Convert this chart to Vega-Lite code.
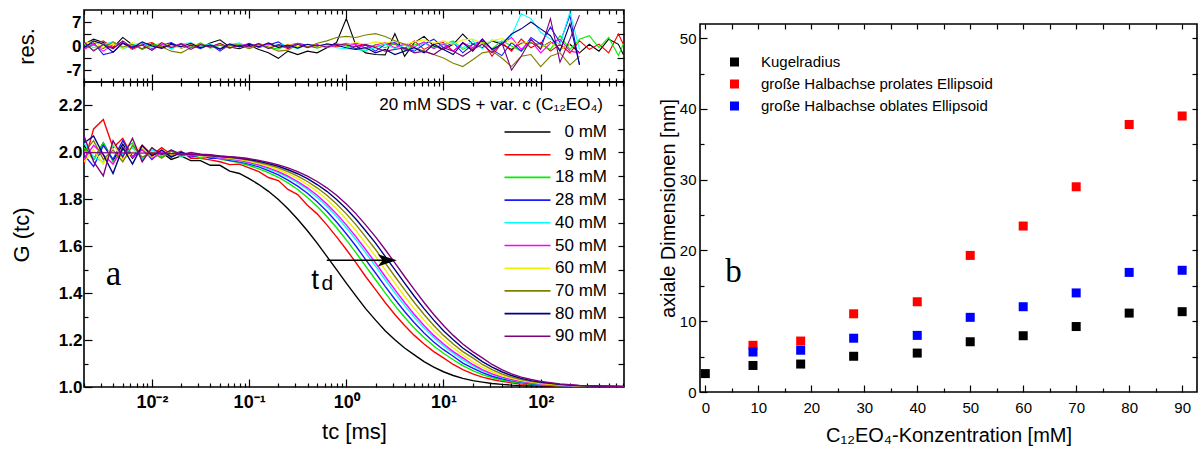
{
"$schema": "https://vega.github.io/schema/vega-lite/v6.json",
"background": "white",
"padding": {"left": 9, "top": 8, "right": 2, "bottom": 0},
"spacing": 31,
"config": {
  "view": {"stroke": "#000000", "strokeWidth": 1.6},
  "axis": {"grid": false, "domain": false, "minExtent": 0, "tickColor": "#000000", "tickWidth": 1.2, "labelColor": "#000000", "titleColor": "#000000", "labelFont": "Liberation Sans", "titleFont": "Liberation Sans", "titleFontWeight": "normal"},
  "legend": {"labelFont": "Liberation Sans", "labelColor": "#000000"},
  "text": {"font": "Liberation Sans", "color": "#000000"}
},
"resolve": {"scale": {"color": "independent"}},
"datasets": {
"g": [
{"c":0,"t":0.002,"g":2.03},{"c":0,"t":0.00251,"g":1.97},{"c":0,"t":0.00316,"g":2.04},{"c":0,"t":0.00398,"g":1.965},{"c":0,"t":0.00501,"g":2.035},{"c":0,"t":0.00631,"g":1.975},{"c":0,"t":0.00794,"g":2.02},{"c":0,"t":0.01,"g":1.975},{"c":0,"t":0.0126,"g":2.0},{"c":0,"t":0.0158,"g":1.97},{"c":0,"t":0.02,"g":1.985},{"c":0,"t":0.0251,"g":1.965},{"c":0,"t":0.0316,"g":1.965},{"c":0,"t":0.0398,"g":1.945},{"c":0,"t":0.0501,"g":1.945},{"c":0,"t":0.0631,"g":1.92},{"c":0,"t":0.0794,"g":1.91},{"c":0,"t":0.1,"g":1.888},{"c":0,"t":0.126,"g":1.863},{"c":0,"t":0.158,"g":1.834},{"c":0,"t":0.2,"g":1.799},{"c":0,"t":0.251,"g":1.76},{"c":0,"t":0.316,"g":1.715},{"c":0,"t":0.398,"g":1.666},{"c":0,"t":0.501,"g":1.613},{"c":0,"t":0.631,"g":1.557},{"c":0,"t":0.794,"g":1.5},{"c":0,"t":1,"g":1.443},{"c":0,"t":1.26,"g":1.387},{"c":0,"t":1.58,"g":1.334},{"c":0,"t":2,"g":1.285},{"c":0,"t":2.51,"g":1.24},{"c":0,"t":3.16,"g":1.201},{"c":0,"t":3.98,"g":1.166},{"c":0,"t":5.01,"g":1.137},{"c":0,"t":6.31,"g":1.108},{"c":0,"t":7.94,"g":1.085},{"c":0,"t":10,"g":1.065},{"c":0,"t":12.6,"g":1.049},{"c":0,"t":15.8,"g":1.037},{"c":0,"t":20,"g":1.027},{"c":0,"t":25.1,"g":1.021},{"c":0,"t":31.6,"g":1.015},{"c":0,"t":39.8,"g":1.011},{"c":0,"t":50.1,"g":1.008},{"c":0,"t":63.1,"g":1.006},{"c":0,"t":79.4,"g":1.005},{"c":0,"t":100,"g":1.004},{"c":0,"t":158,"g":1.002},{"c":0,"t":251,"g":1.001},{"c":0,"t":398,"g":1.001},{"c":0,"t":708,"g":1.0},
{"c":9,"t":0.002,"g":1.95},{"c":9,"t":0.00251,"g":2.1},{"c":9,"t":0.00316,"g":2.14},{"c":9,"t":0.00398,"g":2.02},{"c":9,"t":0.00501,"g":2.06},{"c":9,"t":0.00631,"g":1.98},{"c":9,"t":0.00794,"g":2.03},{"c":9,"t":0.01,"g":1.99},{"c":9,"t":0.0126,"g":2.02},{"c":9,"t":0.0158,"g":1.99},{"c":9,"t":0.02,"g":2.005},{"c":9,"t":0.0251,"g":1.975},{"c":9,"t":0.0316,"g":1.975},{"c":9,"t":0.0398,"g":1.968},{"c":9,"t":0.0501,"g":1.96},{"c":9,"t":0.0631,"g":1.948},{"c":9,"t":0.0794,"g":1.95},{"c":9,"t":0.1,"g":1.934},{"c":9,"t":0.126,"g":1.918},{"c":9,"t":0.158,"g":1.893},{"c":9,"t":0.2,"g":1.88},{"c":9,"t":0.251,"g":1.842},{"c":9,"t":0.316,"g":1.82},{"c":9,"t":0.398,"g":1.775},{"c":9,"t":0.501,"g":1.738},{"c":9,"t":0.631,"g":1.691},{"c":9,"t":0.794,"g":1.64},{"c":9,"t":1,"g":1.586},{"c":9,"t":1.26,"g":1.529},{"c":9,"t":1.58,"g":1.471},{"c":9,"t":2,"g":1.415},{"c":9,"t":2.51,"g":1.36},{"c":9,"t":3.16,"g":1.309},{"c":9,"t":3.98,"g":1.262},{"c":9,"t":5.01,"g":1.22},{"c":9,"t":6.31,"g":1.183},{"c":9,"t":7.94,"g":1.151},{"c":9,"t":10,"g":1.124},{"c":9,"t":12.6,"g":1.096},{"c":9,"t":15.8,"g":1.074},{"c":9,"t":20,"g":1.056},{"c":9,"t":25.1,"g":1.042},{"c":9,"t":31.6,"g":1.032},{"c":9,"t":39.8,"g":1.024},{"c":9,"t":50.1,"g":1.018},{"c":9,"t":63.1,"g":1.013},{"c":9,"t":79.4,"g":1.01},{"c":9,"t":100,"g":1.007},{"c":9,"t":158,"g":1.004},{"c":9,"t":251,"g":1.002},{"c":9,"t":398,"g":1.001},{"c":9,"t":708,"g":1.0},
{"c":18,"t":0.002,"g":2.02},{"c":18,"t":0.00251,"g":1.97},{"c":18,"t":0.00316,"g":2.04},{"c":18,"t":0.00398,"g":1.96},{"c":18,"t":0.00501,"g":2.01},{"c":18,"t":0.00631,"g":2.04},{"c":18,"t":0.00794,"g":1.97},{"c":18,"t":0.01,"g":2.02},{"c":18,"t":0.0126,"g":1.98},{"c":18,"t":0.0158,"g":2.01},{"c":18,"t":0.02,"g":1.99},{"c":18,"t":0.0251,"g":1.995},{"c":18,"t":0.0316,"g":1.975},{"c":18,"t":0.0398,"g":1.985},{"c":18,"t":0.0501,"g":1.97},{"c":18,"t":0.0631,"g":1.965},{"c":18,"t":0.0794,"g":1.955},{"c":18,"t":0.1,"g":1.944},{"c":18,"t":0.126,"g":1.93},{"c":18,"t":0.158,"g":1.914},{"c":18,"t":0.2,"g":1.894},{"c":18,"t":0.251,"g":1.87},{"c":18,"t":0.316,"g":1.842},{"c":18,"t":0.398,"g":1.808},{"c":18,"t":0.501,"g":1.77},{"c":18,"t":0.631,"g":1.727},{"c":18,"t":0.794,"g":1.679},{"c":18,"t":1,"g":1.627},{"c":18,"t":1.26,"g":1.572},{"c":18,"t":1.58,"g":1.515},{"c":18,"t":2,"g":1.457},{"c":18,"t":2.51,"g":1.401},{"c":18,"t":3.16,"g":1.347},{"c":18,"t":3.98,"g":1.297},{"c":18,"t":5.01,"g":1.251},{"c":18,"t":6.31,"g":1.211},{"c":18,"t":7.94,"g":1.175},{"c":18,"t":10,"g":1.144},{"c":18,"t":12.6,"g":1.116},{"c":18,"t":15.8,"g":1.091},{"c":18,"t":20,"g":1.07},{"c":18,"t":25.1,"g":1.053},{"c":18,"t":31.6,"g":1.04},{"c":18,"t":39.8,"g":1.03},{"c":18,"t":50.1,"g":1.022},{"c":18,"t":63.1,"g":1.017},{"c":18,"t":79.4,"g":1.012},{"c":18,"t":100,"g":1.009},{"c":18,"t":158,"g":1.005},{"c":18,"t":251,"g":1.003},{"c":18,"t":398,"g":1.002},{"c":18,"t":708,"g":1.001},
{"c":28,"t":0.002,"g":1.99},{"c":28,"t":0.00251,"g":1.94},{"c":28,"t":0.00316,"g":2.03},{"c":28,"t":0.00398,"g":1.97},{"c":28,"t":0.00501,"g":2.05},{"c":28,"t":0.00631,"g":1.98},{"c":28,"t":0.00794,"g":2.02},{"c":28,"t":0.01,"g":1.97},{"c":28,"t":0.0126,"g":2.01},{"c":28,"t":0.0158,"g":1.985},{"c":28,"t":0.02,"g":2.0},{"c":28,"t":0.0251,"g":1.98},{"c":28,"t":0.0316,"g":1.99},{"c":28,"t":0.0398,"g":1.975},{"c":28,"t":0.0501,"g":1.975},{"c":28,"t":0.0631,"g":1.965},{"c":28,"t":0.0794,"g":1.96},{"c":28,"t":0.1,"g":1.95},{"c":28,"t":0.126,"g":1.938},{"c":28,"t":0.158,"g":1.922},{"c":28,"t":0.2,"g":1.904},{"c":28,"t":0.251,"g":1.882},{"c":28,"t":0.316,"g":1.856},{"c":28,"t":0.398,"g":1.826},{"c":28,"t":0.501,"g":1.79},{"c":28,"t":0.631,"g":1.749},{"c":28,"t":0.794,"g":1.703},{"c":28,"t":1,"g":1.653},{"c":28,"t":1.26,"g":1.6},{"c":28,"t":1.58,"g":1.543},{"c":28,"t":2,"g":1.486},{"c":28,"t":2.51,"g":1.429},{"c":28,"t":3.16,"g":1.374},{"c":28,"t":3.98,"g":1.322},{"c":28,"t":5.01,"g":1.274},{"c":28,"t":6.31,"g":1.23},{"c":28,"t":7.94,"g":1.192},{"c":28,"t":10,"g":1.159},{"c":28,"t":12.6,"g":1.131},{"c":28,"t":15.8,"g":1.102},{"c":28,"t":20,"g":1.08},{"c":28,"t":25.1,"g":1.061},{"c":28,"t":31.6,"g":1.046},{"c":28,"t":39.8,"g":1.035},{"c":28,"t":50.1,"g":1.026},{"c":28,"t":63.1,"g":1.02},{"c":28,"t":79.4,"g":1.014},{"c":28,"t":100,"g":1.011},{"c":28,"t":158,"g":1.006},{"c":28,"t":251,"g":1.003},{"c":28,"t":398,"g":1.002},{"c":28,"t":708,"g":1.001},
{"c":40,"t":0.002,"g":2.04},{"c":40,"t":0.00251,"g":1.98},{"c":40,"t":0.00316,"g":1.96},{"c":40,"t":0.00398,"g":2.03},{"c":40,"t":0.00501,"g":1.99},{"c":40,"t":0.00631,"g":2.02},{"c":40,"t":0.00794,"g":1.975},{"c":40,"t":0.01,"g":2.01},{"c":40,"t":0.0126,"g":1.99},{"c":40,"t":0.0158,"g":2.005},{"c":40,"t":0.02,"g":1.98},{"c":40,"t":0.0251,"g":1.995},{"c":40,"t":0.0316,"g":1.985},{"c":40,"t":0.0398,"g":1.985},{"c":40,"t":0.0501,"g":1.975},{"c":40,"t":0.0631,"g":1.97},{"c":40,"t":0.0794,"g":1.963},{"c":40,"t":0.1,"g":1.955},{"c":40,"t":0.126,"g":1.944},{"c":40,"t":0.158,"g":1.93},{"c":40,"t":0.2,"g":1.914},{"c":40,"t":0.251,"g":1.894},{"c":40,"t":0.316,"g":1.87},{"c":40,"t":0.398,"g":1.842},{"c":40,"t":0.501,"g":1.808},{"c":40,"t":0.631,"g":1.77},{"c":40,"t":0.794,"g":1.727},{"c":40,"t":1,"g":1.679},{"c":40,"t":1.26,"g":1.627},{"c":40,"t":1.58,"g":1.572},{"c":40,"t":2,"g":1.515},{"c":40,"t":2.51,"g":1.457},{"c":40,"t":3.16,"g":1.401},{"c":40,"t":3.98,"g":1.347},{"c":40,"t":5.01,"g":1.297},{"c":40,"t":6.31,"g":1.251},{"c":40,"t":7.94,"g":1.211},{"c":40,"t":10,"g":1.175},{"c":40,"t":12.6,"g":1.144},{"c":40,"t":15.8,"g":1.116},{"c":40,"t":20,"g":1.091},{"c":40,"t":25.1,"g":1.07},{"c":40,"t":31.6,"g":1.053},{"c":40,"t":39.8,"g":1.04},{"c":40,"t":50.1,"g":1.03},{"c":40,"t":63.1,"g":1.022},{"c":40,"t":79.4,"g":1.017},{"c":40,"t":100,"g":1.012},{"c":40,"t":158,"g":1.007},{"c":40,"t":251,"g":1.004},{"c":40,"t":398,"g":1.002},{"c":40,"t":708,"g":1.001},
{"c":50,"t":0.002,"g":1.97},{"c":50,"t":0.00251,"g":2.03},{"c":50,"t":0.00316,"g":1.99},{"c":50,"t":0.00398,"g":1.95},{"c":50,"t":0.00501,"g":2.02},{"c":50,"t":0.00631,"g":1.98},{"c":50,"t":0.00794,"g":2.01},{"c":50,"t":0.01,"g":1.975},{"c":50,"t":0.0126,"g":2.0},{"c":50,"t":0.0158,"g":1.985},{"c":50,"t":0.02,"g":2.0},{"c":50,"t":0.0251,"g":1.985},{"c":50,"t":0.0316,"g":1.99},{"c":50,"t":0.0398,"g":1.98},{"c":50,"t":0.0501,"g":1.977},{"c":50,"t":0.0631,"g":1.972},{"c":50,"t":0.0794,"g":1.966},{"c":50,"t":0.1,"g":1.957},{"c":50,"t":0.126,"g":1.947},{"c":50,"t":0.158,"g":1.934},{"c":50,"t":0.2,"g":1.918},{"c":50,"t":0.251,"g":1.899},{"c":50,"t":0.316,"g":1.876},{"c":50,"t":0.398,"g":1.849},{"c":50,"t":0.501,"g":1.817},{"c":50,"t":0.631,"g":1.78},{"c":50,"t":0.794,"g":1.738},{"c":50,"t":1,"g":1.691},{"c":50,"t":1.26,"g":1.64},{"c":50,"t":1.58,"g":1.586},{"c":50,"t":2,"g":1.529},{"c":50,"t":2.51,"g":1.471},{"c":50,"t":3.16,"g":1.415},{"c":50,"t":3.98,"g":1.36},{"c":50,"t":5.01,"g":1.309},{"c":50,"t":6.31,"g":1.262},{"c":50,"t":7.94,"g":1.22},{"c":50,"t":10,"g":1.183},{"c":50,"t":12.6,"g":1.151},{"c":50,"t":15.8,"g":1.124},{"c":50,"t":20,"g":1.096},{"c":50,"t":25.1,"g":1.074},{"c":50,"t":31.6,"g":1.056},{"c":50,"t":39.8,"g":1.042},{"c":50,"t":50.1,"g":1.032},{"c":50,"t":63.1,"g":1.024},{"c":50,"t":79.4,"g":1.018},{"c":50,"t":100,"g":1.013},{"c":50,"t":158,"g":1.007},{"c":50,"t":251,"g":1.004},{"c":50,"t":398,"g":1.002},{"c":50,"t":708,"g":1.001},
{"c":60,"t":0.002,"g":1.96},{"c":60,"t":0.00251,"g":2.01},{"c":60,"t":0.00316,"g":1.95},{"c":60,"t":0.00398,"g":2.04},{"c":60,"t":0.00501,"g":1.97},{"c":60,"t":0.00631,"g":2.0},{"c":60,"t":0.00794,"g":2.02},{"c":60,"t":0.01,"g":1.98},{"c":60,"t":0.0126,"g":2.01},{"c":60,"t":0.0158,"g":1.99},{"c":60,"t":0.02,"g":1.995},{"c":60,"t":0.0251,"g":1.99},{"c":60,"t":0.0316,"g":1.985},{"c":60,"t":0.0398,"g":1.985},{"c":60,"t":0.0501,"g":1.98},{"c":60,"t":0.0631,"g":1.975},{"c":60,"t":0.0794,"g":1.969},{"c":60,"t":0.1,"g":1.962},{"c":60,"t":0.126,"g":1.952},{"c":60,"t":0.158,"g":1.941},{"c":60,"t":0.2,"g":1.926},{"c":60,"t":0.251,"g":1.909},{"c":60,"t":0.316,"g":1.888},{"c":60,"t":0.398,"g":1.863},{"c":60,"t":0.501,"g":1.834},{"c":60,"t":0.631,"g":1.799},{"c":60,"t":0.794,"g":1.76},{"c":60,"t":1,"g":1.715},{"c":60,"t":1.26,"g":1.666},{"c":60,"t":1.58,"g":1.613},{"c":60,"t":2,"g":1.557},{"c":60,"t":2.51,"g":1.5},{"c":60,"t":3.16,"g":1.443},{"c":60,"t":3.98,"g":1.387},{"c":60,"t":5.01,"g":1.334},{"c":60,"t":6.31,"g":1.285},{"c":60,"t":7.94,"g":1.24},{"c":60,"t":10,"g":1.201},{"c":60,"t":12.6,"g":1.166},{"c":60,"t":15.8,"g":1.137},{"c":60,"t":20,"g":1.108},{"c":60,"t":25.1,"g":1.085},{"c":60,"t":31.6,"g":1.065},{"c":60,"t":39.8,"g":1.049},{"c":60,"t":50.1,"g":1.037},{"c":60,"t":63.1,"g":1.027},{"c":60,"t":79.4,"g":1.021},{"c":60,"t":100,"g":1.015},{"c":60,"t":158,"g":1.008},{"c":60,"t":251,"g":1.005},{"c":60,"t":398,"g":1.003},{"c":60,"t":708,"g":1.001},
{"c":70,"t":0.002,"g":2.0},{"c":70,"t":0.00251,"g":2.05},{"c":70,"t":0.00316,"g":1.97},{"c":70,"t":0.00398,"g":2.01},{"c":70,"t":0.00501,"g":1.96},{"c":70,"t":0.00631,"g":2.03},{"c":70,"t":0.00794,"g":1.98},{"c":70,"t":0.01,"g":2.0},{"c":70,"t":0.0126,"g":1.975},{"c":70,"t":0.0158,"g":2.005},{"c":70,"t":0.02,"g":1.985},{"c":70,"t":0.0251,"g":1.995},{"c":70,"t":0.0316,"g":1.99},{"c":70,"t":0.0398,"g":1.985},{"c":70,"t":0.0501,"g":1.98},{"c":70,"t":0.0631,"g":1.978},{"c":70,"t":0.0794,"g":1.973},{"c":70,"t":0.1,"g":1.966},{"c":70,"t":0.126,"g":1.957},{"c":70,"t":0.158,"g":1.947},{"c":70,"t":0.2,"g":1.934},{"c":70,"t":0.251,"g":1.918},{"c":70,"t":0.316,"g":1.899},{"c":70,"t":0.398,"g":1.876},{"c":70,"t":0.501,"g":1.849},{"c":70,"t":0.631,"g":1.817},{"c":70,"t":0.794,"g":1.78},{"c":70,"t":1,"g":1.738},{"c":70,"t":1.26,"g":1.691},{"c":70,"t":1.58,"g":1.64},{"c":70,"t":2,"g":1.586},{"c":70,"t":2.51,"g":1.529},{"c":70,"t":3.16,"g":1.471},{"c":70,"t":3.98,"g":1.415},{"c":70,"t":5.01,"g":1.36},{"c":70,"t":6.31,"g":1.309},{"c":70,"t":7.94,"g":1.262},{"c":70,"t":10,"g":1.22},{"c":70,"t":12.6,"g":1.183},{"c":70,"t":15.8,"g":1.151},{"c":70,"t":20,"g":1.124},{"c":70,"t":25.1,"g":1.096},{"c":70,"t":31.6,"g":1.074},{"c":70,"t":39.8,"g":1.056},{"c":70,"t":50.1,"g":1.042},{"c":70,"t":63.1,"g":1.032},{"c":70,"t":79.4,"g":1.024},{"c":70,"t":100,"g":1.018},{"c":70,"t":158,"g":1.01},{"c":70,"t":251,"g":1.005},{"c":70,"t":398,"g":1.003},{"c":70,"t":708,"g":1.0015},
{"c":80,"t":0.002,"g":2.04},{"c":80,"t":0.00251,"g":2.07},{"c":80,"t":0.00316,"g":1.99},{"c":80,"t":0.00398,"g":1.91},{"c":80,"t":0.00501,"g":2.02},{"c":80,"t":0.00631,"g":1.95},{"c":80,"t":0.00794,"g":2.03},{"c":80,"t":0.01,"g":1.985},{"c":80,"t":0.0126,"g":2.01},{"c":80,"t":0.0158,"g":1.98},{"c":80,"t":0.02,"g":2.0},{"c":80,"t":0.0251,"g":1.99},{"c":80,"t":0.0316,"g":1.99},{"c":80,"t":0.0398,"g":1.987},{"c":80,"t":0.0501,"g":1.983},{"c":80,"t":0.0631,"g":1.98},{"c":80,"t":0.0794,"g":1.976},{"c":80,"t":0.1,"g":1.969},{"c":80,"t":0.126,"g":1.962},{"c":80,"t":0.158,"g":1.952},{"c":80,"t":0.2,"g":1.941},{"c":80,"t":0.251,"g":1.926},{"c":80,"t":0.316,"g":1.909},{"c":80,"t":0.398,"g":1.888},{"c":80,"t":0.501,"g":1.863},{"c":80,"t":0.631,"g":1.834},{"c":80,"t":0.794,"g":1.799},{"c":80,"t":1,"g":1.76},{"c":80,"t":1.26,"g":1.715},{"c":80,"t":1.58,"g":1.666},{"c":80,"t":2,"g":1.613},{"c":80,"t":2.51,"g":1.557},{"c":80,"t":3.16,"g":1.5},{"c":80,"t":3.98,"g":1.443},{"c":80,"t":5.01,"g":1.387},{"c":80,"t":6.31,"g":1.334},{"c":80,"t":7.94,"g":1.285},{"c":80,"t":10,"g":1.24},{"c":80,"t":12.6,"g":1.201},{"c":80,"t":15.8,"g":1.166},{"c":80,"t":20,"g":1.137},{"c":80,"t":25.1,"g":1.108},{"c":80,"t":31.6,"g":1.085},{"c":80,"t":39.8,"g":1.065},{"c":80,"t":50.1,"g":1.049},{"c":80,"t":63.1,"g":1.037},{"c":80,"t":79.4,"g":1.027},{"c":80,"t":100,"g":1.021},{"c":80,"t":158,"g":1.011},{"c":80,"t":251,"g":1.006},{"c":80,"t":398,"g":1.0035},{"c":80,"t":708,"g":1.002},
{"c":90,"t":0.002,"g":2.07},{"c":90,"t":0.00251,"g":1.96},{"c":90,"t":0.00316,"g":1.9},{"c":90,"t":0.00398,"g":2.05},{"c":90,"t":0.00501,"g":1.98},{"c":90,"t":0.00631,"g":2.06},{"c":90,"t":0.00794,"g":1.96},{"c":90,"t":0.01,"g":2.02},{"c":90,"t":0.0126,"g":1.99},{"c":90,"t":0.0158,"g":2.01},{"c":90,"t":0.02,"g":1.99},{"c":90,"t":0.0251,"g":2.0},{"c":90,"t":0.0316,"g":1.992},{"c":90,"t":0.0398,"g":1.99},{"c":90,"t":0.0501,"g":1.985},{"c":90,"t":0.0631,"g":1.982},{"c":90,"t":0.0794,"g":1.978},{"c":90,"t":0.1,"g":1.973},{"c":90,"t":0.126,"g":1.966},{"c":90,"t":0.158,"g":1.957},{"c":90,"t":0.2,"g":1.947},{"c":90,"t":0.251,"g":1.934},{"c":90,"t":0.316,"g":1.918},{"c":90,"t":0.398,"g":1.899},{"c":90,"t":0.501,"g":1.876},{"c":90,"t":0.631,"g":1.849},{"c":90,"t":0.794,"g":1.817},{"c":90,"t":1,"g":1.78},{"c":90,"t":1.26,"g":1.738},{"c":90,"t":1.58,"g":1.691},{"c":90,"t":2,"g":1.64},{"c":90,"t":2.51,"g":1.586},{"c":90,"t":3.16,"g":1.529},{"c":90,"t":3.98,"g":1.471},{"c":90,"t":5.01,"g":1.415},{"c":90,"t":6.31,"g":1.36},{"c":90,"t":7.94,"g":1.309},{"c":90,"t":10,"g":1.262},{"c":90,"t":12.6,"g":1.22},{"c":90,"t":15.8,"g":1.183},{"c":90,"t":20,"g":1.151},{"c":90,"t":25.1,"g":1.124},{"c":90,"t":31.6,"g":1.096},{"c":90,"t":39.8,"g":1.074},{"c":90,"t":50.1,"g":1.056},{"c":90,"t":63.1,"g":1.042},{"c":90,"t":79.4,"g":1.032},{"c":90,"t":100,"g":1.024},{"c":90,"t":158,"g":1.013},{"c":90,"t":251,"g":1.007},{"c":90,"t":398,"g":1.004},{"c":90,"t":708,"g":1.002}
],
"fit": [
{"c":90,"t":0.002,"g":1.999},{"c":90,"t":0.01,"g":1.997},{"c":90,"t":0.0316,"g":1.991},{"c":90,"t":0.1,"g":1.973}
],
"res": [
{"c":0,"t":0.002,"r":0.5},{"c":0,"t":0.00251,"r":2.0},{"c":0,"t":0.00316,"r":1.0},{"c":0,"t":0.00398,"r":-0.5},{"c":0,"t":0.00501,"r":2.5},{"c":0,"t":0.00631,"r":0.3},{"c":0,"t":0.00794,"r":-0.8},{"c":0,"t":0.01,"r":0.6},{"c":0,"t":0.0126,"r":-0.4},{"c":0,"t":0.0158,"r":0.8},{"c":0,"t":0.02,"r":-0.6},{"c":0,"t":0.0251,"r":0.3},{"c":0,"t":0.0316,"r":-0.5},{"c":0,"t":0.0398,"r":0.9},{"c":0,"t":0.0501,"r":1.8},{"c":0,"t":0.0631,"r":-0.3},{"c":0,"t":0.0794,"r":-0.8},{"c":0,"t":0.1,"r":0.2},{"c":0,"t":0.126,"r":-1.0},{"c":0,"t":0.158,"r":-2.0},{"c":0,"t":0.2,"r":-3.6},{"c":0,"t":0.251,"r":-1.5},{"c":0,"t":0.316,"r":-2.5},{"c":0,"t":0.398,"r":-1.5},{"c":0,"t":0.501,"r":-2.0},{"c":0,"t":0.631,"r":-0.5},{"c":0,"t":0.794,"r":1.0},{"c":0,"t":1,"r":8.0},{"c":0,"t":1.26,"r":0.0},{"c":0,"t":1.58,"r":-2.0},{"c":0,"t":2,"r":-2.5},{"c":0,"t":2.51,"r":-2.6},{"c":0,"t":3.16,"r":3.6},{"c":0,"t":3.98,"r":-3.0},{"c":0,"t":5.01,"r":1.0},{"c":0,"t":6.31,"r":2.8},{"c":0,"t":7.94,"r":0.0},{"c":0,"t":10,"r":-1.0},{"c":0,"t":12.6,"r":0.5},{"c":0,"t":15.8,"r":3.5},{"c":0,"t":20,"r":0.5},{"c":0,"t":25.1,"r":-0.5},{"c":0,"t":31.6,"r":1.5},{"c":0,"t":39.8,"r":0.5},{"c":0,"t":50.1,"r":-1.0},{"c":0,"t":63.1,"r":0.8},{"c":0,"t":79.4,"r":1.0},{"c":0,"t":100,"r":-0.5},{"c":0,"t":126,"r":1.2},{"c":0,"t":158,"r":-1.0},{"c":0,"t":200,"r":0.5},{"c":0,"t":251,"r":-2.0},{"c":0,"t":316,"r":0.5},{"c":0,"t":398,"r":-1.5},{"c":0,"t":501,"r":2.0},{"c":0,"t":631,"r":0.5},{"c":0,"t":708,"r":-2.5},
{"c":9,"t":0.002,"r":-0.8},{"c":9,"t":0.00251,"r":0.5},{"c":9,"t":0.00316,"r":1.5},{"c":9,"t":0.00398,"r":-0.4},{"c":9,"t":0.00501,"r":0.8},{"c":9,"t":0.00631,"r":-1.0},{"c":9,"t":0.00794,"r":0.4},{"c":9,"t":0.01,"r":1.0},{"c":9,"t":0.0126,"r":-0.6},{"c":9,"t":0.0158,"r":0.3},{"c":9,"t":0.02,"r":-0.3},{"c":9,"t":0.0251,"r":0.6},{"c":9,"t":0.0316,"r":-0.2},{"c":9,"t":0.0398,"r":0.4},{"c":9,"t":0.0501,"r":-0.9},{"c":9,"t":0.0631,"r":0.2},{"c":9,"t":0.0794,"r":0.5},{"c":9,"t":0.1,"r":-0.3},{"c":9,"t":0.126,"r":0.8},{"c":9,"t":0.158,"r":-0.5},{"c":9,"t":0.2,"r":0.3},{"c":9,"t":0.251,"r":-0.8},{"c":9,"t":0.316,"r":0.6},{"c":9,"t":0.398,"r":0.0},{"c":9,"t":0.501,"r":-0.5},{"c":9,"t":0.631,"r":0.4},{"c":9,"t":0.794,"r":-0.2},{"c":9,"t":1,"r":0.5},{"c":9,"t":1.26,"r":0.8},{"c":9,"t":1.58,"r":0.2},{"c":9,"t":2,"r":-0.3},{"c":9,"t":2.51,"r":0.6},{"c":9,"t":3.16,"r":0.5},{"c":9,"t":3.98,"r":-0.8},{"c":9,"t":5.01,"r":1.5},{"c":9,"t":6.31,"r":-1.0},{"c":9,"t":7.94,"r":0.5},{"c":9,"t":10,"r":1.0},{"c":9,"t":12.6,"r":-1.5},{"c":9,"t":15.8,"r":0.8},{"c":9,"t":20,"r":-1.0},{"c":9,"t":25.1,"r":1.5},{"c":9,"t":31.6,"r":-3.0},{"c":9,"t":39.8,"r":1.0},{"c":9,"t":50.1,"r":-1.5},{"c":9,"t":63.1,"r":2.0},{"c":9,"t":79.4,"r":-0.5},{"c":9,"t":100,"r":1.0},{"c":9,"t":126,"r":-1.5},{"c":9,"t":158,"r":0.5},{"c":9,"t":200,"r":-2.0},{"c":9,"t":251,"r":1.5},{"c":9,"t":316,"r":-1.0},{"c":9,"t":398,"r":0.5},{"c":9,"t":501,"r":-2.0},{"c":9,"t":631,"r":3.5},{"c":9,"t":708,"r":0.5},
{"c":18,"t":0.002,"r":0.6},{"c":18,"t":0.00251,"r":-1.2},{"c":18,"t":0.00316,"r":0.3},{"c":18,"t":0.00398,"r":1.0},{"c":18,"t":0.00501,"r":-0.7},{"c":18,"t":0.00631,"r":0.5},{"c":18,"t":0.00794,"r":-1.0},{"c":18,"t":0.01,"r":0.2},{"c":18,"t":0.0126,"r":0.7},{"c":18,"t":0.0158,"r":-0.8},{"c":18,"t":0.02,"r":0.4},{"c":18,"t":0.0251,"r":-0.3},{"c":18,"t":0.0316,"r":0.9},{"c":18,"t":0.0398,"r":-0.6},{"c":18,"t":0.0501,"r":0.2},{"c":18,"t":0.0631,"r":-0.5},{"c":18,"t":0.0794,"r":0.6},{"c":18,"t":0.1,"r":-0.8},{"c":18,"t":0.126,"r":0.3},{"c":18,"t":0.158,"r":-0.4},{"c":18,"t":0.2,"r":-0.9},{"c":18,"t":0.251,"r":0.5},{"c":18,"t":0.316,"r":-0.2},{"c":18,"t":0.398,"r":0.4},{"c":18,"t":0.501,"r":-0.6},{"c":18,"t":0.631,"r":0.2},{"c":18,"t":0.794,"r":0.5},{"c":18,"t":1,"r":0.0},{"c":18,"t":1.26,"r":-0.8},{"c":18,"t":1.58,"r":-1.5},{"c":18,"t":2,"r":0.5},{"c":18,"t":2.51,"r":-0.5},{"c":18,"t":3.16,"r":0.8},{"c":18,"t":3.98,"r":-1.2},{"c":18,"t":5.01,"r":0.3},{"c":18,"t":6.31,"r":1.0},{"c":18,"t":7.94,"r":-0.5},{"c":18,"t":10,"r":0.5},{"c":18,"t":12.6,"r":1.5},{"c":18,"t":15.8,"r":-1.0},{"c":18,"t":20,"r":0.5},{"c":18,"t":25.1,"r":1.0},{"c":18,"t":31.6,"r":-0.8},{"c":18,"t":39.8,"r":1.5},{"c":18,"t":50.1,"r":0.0},{"c":18,"t":63.1,"r":-1.5},{"c":18,"t":79.4,"r":1.0},{"c":18,"t":100,"r":0.5},{"c":18,"t":126,"r":-1.0},{"c":18,"t":158,"r":3.0},{"c":18,"t":200,"r":-1.0},{"c":18,"t":251,"r":2.0},{"c":18,"t":316,"r":3.0},{"c":18,"t":398,"r":-0.5},{"c":18,"t":501,"r":2.5},{"c":18,"t":631,"r":-2.8},{"c":18,"t":708,"r":0.5},
{"c":28,"t":0.002,"r":-0.3},{"c":28,"t":0.00251,"r":1.0},{"c":28,"t":0.00316,"r":-2.5},{"c":28,"t":0.00398,"r":-1.8},{"c":28,"t":0.00501,"r":0.8},{"c":28,"t":0.00631,"r":-0.2},{"c":28,"t":0.00794,"r":0.6},{"c":28,"t":0.01,"r":-0.7},{"c":28,"t":0.0126,"r":0.3},{"c":28,"t":0.0158,"r":1.0},{"c":28,"t":0.02,"r":-0.5},{"c":28,"t":0.0251,"r":0.2},{"c":28,"t":0.0316,"r":-0.8},{"c":28,"t":0.0398,"r":0.5},{"c":28,"t":0.0501,"r":-1.5},{"c":28,"t":0.0631,"r":0.4},{"c":28,"t":0.0794,"r":-0.2},{"c":28,"t":0.1,"r":0.8},{"c":28,"t":0.126,"r":-0.4},{"c":28,"t":0.158,"r":0.3},{"c":28,"t":0.2,"r":1.2},{"c":28,"t":0.251,"r":-0.6},{"c":28,"t":0.316,"r":0.8},{"c":28,"t":0.398,"r":0.2},{"c":28,"t":0.501,"r":-0.4},{"c":28,"t":0.631,"r":0.6},{"c":28,"t":0.794,"r":0.3},{"c":28,"t":1,"r":0.5},{"c":28,"t":1.26,"r":-0.8},{"c":28,"t":1.58,"r":0.3},{"c":28,"t":2,"r":-1.5},{"c":28,"t":2.51,"r":0.5},{"c":28,"t":3.16,"r":1.0},{"c":28,"t":3.98,"r":-0.8},{"c":28,"t":5.01,"r":-1.5},{"c":28,"t":6.31,"r":0.5},{"c":28,"t":7.94,"r":2.0},{"c":28,"t":10,"r":-0.5},{"c":28,"t":12.6,"r":1.0},{"c":28,"t":15.8,"r":-2.0},{"c":28,"t":20,"r":0.5},{"c":28,"t":25.1,"r":1.5},{"c":28,"t":31.6,"r":-1.0},{"c":28,"t":39.8,"r":-2.8},{"c":28,"t":50.1,"r":1.0},{"c":28,"t":63.1,"r":-1.5},{"c":28,"t":79.4,"r":2.5},{"c":28,"t":100,"r":0.5},{"c":28,"t":126,"r":5.5},{"c":28,"t":158,"r":1.0},{"c":28,"t":200,"r":8.9},{"c":28,"t":251,"r":-5.5},
{"c":40,"t":0.002,"r":1.0},{"c":40,"t":0.00251,"r":-0.5},{"c":40,"t":0.00316,"r":0.4},{"c":40,"t":0.00398,"r":1.2},{"c":40,"t":0.00501,"r":-0.9},{"c":40,"t":0.00631,"r":0.3},{"c":40,"t":0.00794,"r":1.0},{"c":40,"t":0.01,"r":-0.4},{"c":40,"t":0.0126,"r":0.7},{"c":40,"t":0.0158,"r":-0.9},{"c":40,"t":0.02,"r":0.5},{"c":40,"t":0.0251,"r":1.0},{"c":40,"t":0.0316,"r":-0.3},{"c":40,"t":0.0398,"r":0.6},{"c":40,"t":0.0501,"r":-0.7},{"c":40,"t":0.0631,"r":0.4},{"c":40,"t":0.0794,"r":0.9},{"c":40,"t":0.1,"r":-0.5},{"c":40,"t":0.126,"r":0.2},{"c":40,"t":0.158,"r":-0.6},{"c":40,"t":0.2,"r":0.5},{"c":40,"t":0.251,"r":0.1},{"c":40,"t":0.316,"r":-0.8},{"c":40,"t":0.398,"r":0.4},{"c":40,"t":0.501,"r":-0.3},{"c":40,"t":0.631,"r":0.2},{"c":40,"t":0.794,"r":-0.5},{"c":40,"t":1,"r":-0.8},{"c":40,"t":1.26,"r":-1.0},{"c":40,"t":1.58,"r":-1.2},{"c":40,"t":2,"r":-0.5},{"c":40,"t":2.51,"r":0.5},{"c":40,"t":3.16,"r":-0.8},{"c":40,"t":3.98,"r":0.3},{"c":40,"t":5.01,"r":-1.2},{"c":40,"t":6.31,"r":1.0},{"c":40,"t":7.94,"r":-0.8},{"c":40,"t":10,"r":0.5},{"c":40,"t":12.6,"r":1.0},{"c":40,"t":15.8,"r":-0.5},{"c":40,"t":20,"r":1.5},{"c":40,"t":25.1,"r":-0.8},{"c":40,"t":31.6,"r":1.8},{"c":40,"t":39.8,"r":1.0},{"c":40,"t":50.1,"r":3.0},{"c":40,"t":63.1,"r":9.4},{"c":40,"t":79.4,"r":8.0},{"c":40,"t":100,"r":4.0},{"c":40,"t":126,"r":2.0},{"c":40,"t":158,"r":0.5},{"c":40,"t":200,"r":9.9},{"c":40,"t":251,"r":-1.0},
{"c":50,"t":0.002,"r":-1.0},{"c":50,"t":0.00251,"r":0.6},{"c":50,"t":0.00316,"r":-1.5},{"c":50,"t":0.00398,"r":0.4},{"c":50,"t":0.00501,"r":1.0},{"c":50,"t":0.00631,"r":-0.6},{"c":50,"t":0.00794,"r":0.3},{"c":50,"t":0.01,"r":-1.2},{"c":50,"t":0.0126,"r":0.5},{"c":50,"t":0.0158,"r":-0.3},{"c":50,"t":0.02,"r":0.8},{"c":50,"t":0.0251,"r":-0.5},{"c":50,"t":0.0316,"r":0.3},{"c":50,"t":0.0398,"r":-0.2},{"c":50,"t":0.0501,"r":0.6},{"c":50,"t":0.0631,"r":-0.6},{"c":50,"t":0.0794,"r":0.2},{"c":50,"t":0.1,"r":0.5},{"c":50,"t":0.126,"r":-0.3},{"c":50,"t":0.158,"r":0.6},{"c":50,"t":0.2,"r":-0.5},{"c":50,"t":0.251,"r":0.2},{"c":50,"t":0.316,"r":0.8},{"c":50,"t":0.398,"r":-0.3},{"c":50,"t":0.501,"r":0.4},{"c":50,"t":0.631,"r":-0.5},{"c":50,"t":0.794,"r":0.2},{"c":50,"t":1,"r":0.8},{"c":50,"t":1.26,"r":0.4},{"c":50,"t":1.58,"r":-0.6},{"c":50,"t":2,"r":0.3},{"c":50,"t":2.51,"r":1.0},{"c":50,"t":3.16,"r":-0.5},{"c":50,"t":3.98,"r":0.6},{"c":50,"t":5.01,"r":-0.3},{"c":50,"t":6.31,"r":1.2},{"c":50,"t":7.94,"r":-0.8},{"c":50,"t":10,"r":0.5},{"c":50,"t":12.6,"r":-1.5},{"c":50,"t":15.8,"r":1.0},{"c":50,"t":20,"r":-0.5},{"c":50,"t":25.1,"r":2.0},{"c":50,"t":31.6,"r":-1.2},{"c":50,"t":39.8,"r":0.5},{"c":50,"t":50.1,"r":2.5},{"c":50,"t":63.1,"r":-1.0},{"c":50,"t":79.4,"r":1.5},{"c":50,"t":100,"r":-2.0},{"c":50,"t":126,"r":0.8},{"c":50,"t":158,"r":2.0},{"c":50,"t":200,"r":-1.5},{"c":50,"t":251,"r":-2.0},
{"c":60,"t":0.002,"r":0.8},{"c":60,"t":0.00251,"r":1.3},{"c":60,"t":0.00316,"r":-0.4},{"c":60,"t":0.00398,"r":0.6},{"c":60,"t":0.00501,"r":-0.8},{"c":60,"t":0.00631,"r":1.0},{"c":60,"t":0.00794,"r":0.2},{"c":60,"t":0.01,"r":-0.5},{"c":60,"t":0.0126,"r":0.9},{"c":60,"t":0.0158,"r":0.1},{"c":60,"t":0.02,"r":-0.6},{"c":60,"t":0.0251,"r":0.7},{"c":60,"t":0.0316,"r":0.2},{"c":60,"t":0.0398,"r":-0.4},{"c":60,"t":0.0501,"r":0.5},{"c":60,"t":0.0631,"r":-0.2},{"c":60,"t":0.0794,"r":0.3},{"c":60,"t":0.1,"r":-0.5},{"c":60,"t":0.126,"r":0.6},{"c":60,"t":0.158,"r":0.0},{"c":60,"t":0.2,"r":-0.3},{"c":60,"t":0.251,"r":0.5},{"c":60,"t":0.316,"r":-0.1},{"c":60,"t":0.398,"r":0.2},{"c":60,"t":0.501,"r":-0.3},{"c":60,"t":0.631,"r":0.4},{"c":60,"t":0.794,"r":0.1},{"c":60,"t":1,"r":0.5},{"c":60,"t":1.26,"r":1.0},{"c":60,"t":1.58,"r":0.5},{"c":60,"t":2,"r":1.2},{"c":60,"t":2.51,"r":0.8},{"c":60,"t":3.16,"r":1.5},{"c":60,"t":3.98,"r":0.5},{"c":60,"t":5.01,"r":1.2},{"c":60,"t":6.31,"r":1.8},{"c":60,"t":7.94,"r":0.8},{"c":60,"t":10,"r":1.5},{"c":60,"t":12.6,"r":0.5},{"c":60,"t":15.8,"r":1.8},{"c":60,"t":20,"r":2.0},{"c":60,"t":25.1,"r":0.8},{"c":60,"t":31.6,"r":1.5},{"c":60,"t":39.8,"r":2.2},{"c":60,"t":50.1,"r":1.0},{"c":60,"t":63.1,"r":0.5},{"c":60,"t":79.4,"r":1.5},{"c":60,"t":100,"r":-0.5},{"c":60,"t":126,"r":1.0},{"c":60,"t":158,"r":-1.0},{"c":60,"t":200,"r":0.5},
{"c":70,"t":0.002,"r":-0.5},{"c":70,"t":0.00251,"r":0.3},{"c":70,"t":0.00316,"r":-0.8},{"c":70,"t":0.00398,"r":1.2},{"c":70,"t":0.00501,"r":-0.3},{"c":70,"t":0.00631,"r":0.5},{"c":70,"t":0.00794,"r":-1.0},{"c":70,"t":0.01,"r":0.4},{"c":70,"t":0.0126,"r":-0.2},{"c":70,"t":0.0158,"r":-1.5},{"c":70,"t":0.02,"r":-2.0},{"c":70,"t":0.0251,"r":-0.5},{"c":70,"t":0.0316,"r":0.6},{"c":70,"t":0.0398,"r":-0.4},{"c":70,"t":0.0501,"r":0.3},{"c":70,"t":0.0631,"r":-0.6},{"c":70,"t":0.0794,"r":0.2},{"c":70,"t":0.1,"r":-0.8},{"c":70,"t":0.126,"r":0.5},{"c":70,"t":0.158,"r":-0.3},{"c":70,"t":0.2,"r":-1.5},{"c":70,"t":0.251,"r":-1.2},{"c":70,"t":0.316,"r":0.5},{"c":70,"t":0.398,"r":-0.3},{"c":70,"t":0.501,"r":0.8},{"c":70,"t":0.631,"r":1.5},{"c":70,"t":0.794,"r":2.5},{"c":70,"t":1,"r":2.8},{"c":70,"t":1.26,"r":2.5},{"c":70,"t":1.58,"r":3.2},{"c":70,"t":2,"r":3.6},{"c":70,"t":2.51,"r":2.8},{"c":70,"t":3.16,"r":1.5},{"c":70,"t":3.98,"r":0.5},{"c":70,"t":5.01,"r":-0.5},{"c":70,"t":6.31,"r":-1.5},{"c":70,"t":7.94,"r":-2.5},{"c":70,"t":10,"r":-3.5},{"c":70,"t":12.6,"r":-5.0},{"c":70,"t":15.8,"r":-6.0},{"c":70,"t":20,"r":-4.0},{"c":70,"t":25.1,"r":-2.0},{"c":70,"t":31.6,"r":-1.5},{"c":70,"t":39.8,"r":-3.5},{"c":70,"t":50.1,"r":-6.0},{"c":70,"t":63.1,"r":-3.0},{"c":70,"t":79.4,"r":-2.5},{"c":70,"t":100,"r":-6.0},{"c":70,"t":126,"r":-3.0},{"c":70,"t":158,"r":-2.0},{"c":70,"t":200,"r":-5.5},{"c":70,"t":251,"r":-3.0},
{"c":80,"t":0.002,"r":-0.5},{"c":80,"t":0.00251,"r":1.5},{"c":80,"t":0.00316,"r":0.5},{"c":80,"t":0.00398,"r":-1.8},{"c":80,"t":0.00501,"r":0.9},{"c":80,"t":0.00631,"r":-0.6},{"c":80,"t":0.00794,"r":1.2},{"c":80,"t":0.01,"r":0.0},{"c":80,"t":0.0126,"r":-0.7},{"c":80,"t":0.0158,"r":0.5},{"c":80,"t":0.02,"r":-0.2},{"c":80,"t":0.0251,"r":0.8},{"c":80,"t":0.0316,"r":-0.5},{"c":80,"t":0.0398,"r":0.3},{"c":80,"t":0.0501,"r":-0.9},{"c":80,"t":0.0631,"r":0.6},{"c":80,"t":0.0794,"r":-0.3},{"c":80,"t":0.1,"r":0.5},{"c":80,"t":0.126,"r":-0.2},{"c":80,"t":0.158,"r":0.9},{"c":80,"t":0.2,"r":-0.4},{"c":80,"t":0.251,"r":0.3},{"c":80,"t":0.316,"r":-0.6},{"c":80,"t":0.398,"r":0.5},{"c":80,"t":0.501,"r":0.0},{"c":80,"t":0.631,"r":0.6},{"c":80,"t":0.794,"r":0.2},{"c":80,"t":1,"r":-0.5},{"c":80,"t":1.26,"r":-1.0},{"c":80,"t":1.58,"r":-0.5},{"c":80,"t":2,"r":-2.0},{"c":80,"t":2.51,"r":-1.0},{"c":80,"t":3.16,"r":-2.5},{"c":80,"t":3.98,"r":-1.5},{"c":80,"t":5.01,"r":-0.5},{"c":80,"t":6.31,"r":-2.0},{"c":80,"t":7.94,"r":0.5},{"c":80,"t":10,"r":-1.0},{"c":80,"t":12.6,"r":-2.5},{"c":80,"t":15.8,"r":1.0},{"c":80,"t":20,"r":-1.5},{"c":80,"t":25.1,"r":2.0},{"c":80,"t":31.6,"r":-1.0},{"c":80,"t":39.8,"r":0.5},{"c":80,"t":50.1,"r":3.5},{"c":80,"t":63.1,"r":5.0},{"c":80,"t":79.4,"r":7.0},{"c":80,"t":100,"r":5.0},{"c":80,"t":126,"r":3.0},{"c":80,"t":158,"r":-1.5},{"c":80,"t":200,"r":6.5},{"c":80,"t":251,"r":-5.5},
{"c":90,"t":0.002,"r":1.2},{"c":90,"t":0.00251,"r":-1.5},{"c":90,"t":0.00316,"r":0.5},{"c":90,"t":0.00398,"r":-0.8},{"c":90,"t":0.00501,"r":1.5},{"c":90,"t":0.00631,"r":-0.5},{"c":90,"t":0.00794,"r":0.3},{"c":90,"t":0.01,"r":-1.3},{"c":90,"t":0.0126,"r":1.0},{"c":90,"t":0.0158,"r":-0.5},{"c":90,"t":0.02,"r":0.6},{"c":90,"t":0.0251,"r":-1.0},{"c":90,"t":0.0316,"r":0.4},{"c":90,"t":0.0398,"r":-0.3},{"c":90,"t":0.0501,"r":0.8},{"c":90,"t":0.0631,"r":-0.5},{"c":90,"t":0.0794,"r":0.2},{"c":90,"t":0.1,"r":-0.3},{"c":90,"t":0.126,"r":0.7},{"c":90,"t":0.158,"r":-0.8},{"c":90,"t":0.2,"r":0.4},{"c":90,"t":0.251,"r":-0.2},{"c":90,"t":0.316,"r":0.5},{"c":90,"t":0.398,"r":-0.5},{"c":90,"t":0.501,"r":0.3},{"c":90,"t":0.631,"r":-0.3},{"c":90,"t":0.794,"r":0.6},{"c":90,"t":1,"r":0.3},{"c":90,"t":1.26,"r":-0.2},{"c":90,"t":1.58,"r":0.5},{"c":90,"t":2,"r":-0.5},{"c":90,"t":2.51,"r":-1.5},{"c":90,"t":3.16,"r":-1.0},{"c":90,"t":3.98,"r":-0.5},{"c":90,"t":5.01,"r":-2.0},{"c":90,"t":6.31,"r":-1.5},{"c":90,"t":7.94,"r":-2.5},{"c":90,"t":10,"r":-0.5},{"c":90,"t":12.6,"r":-1.5},{"c":90,"t":15.8,"r":-3.0},{"c":90,"t":20,"r":-1.0},{"c":90,"t":25.1,"r":0.5},{"c":90,"t":31.6,"r":-2.0},{"c":90,"t":39.8,"r":1.0},{"c":90,"t":50.1,"r":-7.0},{"c":90,"t":63.1,"r":-3.0},{"c":90,"t":79.4,"r":2.0},{"c":90,"t":100,"r":-1.0},{"c":90,"t":126,"r":8.0},{"c":90,"t":158,"r":-4.7},{"c":90,"t":200,"r":2.0},{"c":90,"t":251,"r":9.0}
],
"dim": [
{"c":0,"v":2.6,"s":"Kugelradius"},{"c":9,"v":3.75,"s":"Kugelradius"},{"c":18,"v":3.95,"s":"Kugelradius"},{"c":28,"v":5.05,"s":"Kugelradius"},{"c":40,"v":5.5,"s":"Kugelradius"},{"c":50,"v":7.1,"s":"Kugelradius"},{"c":60,"v":7.95,"s":"Kugelradius"},{"c":70,"v":9.25,"s":"Kugelradius"},{"c":80,"v":11.15,"s":"Kugelradius"},{"c":90,"v":11.35,"s":"Kugelradius"},
{"c":9,"v":6.6,"s":"große Halbachse prolates Ellipsoid"},{"c":18,"v":7.2,"s":"große Halbachse prolates Ellipsoid"},{"c":28,"v":11.05,"s":"große Halbachse prolates Ellipsoid"},{"c":40,"v":12.75,"s":"große Halbachse prolates Ellipsoid"},{"c":50,"v":19.3,"s":"große Halbachse prolates Ellipsoid"},{"c":60,"v":23.45,"s":"große Halbachse prolates Ellipsoid"},{"c":70,"v":29.0,"s":"große Halbachse prolates Ellipsoid"},{"c":80,"v":37.8,"s":"große Halbachse prolates Ellipsoid"},{"c":90,"v":39.0,"s":"große Halbachse prolates Ellipsoid"},
{"c":9,"v":5.65,"s":"große Halbachse oblates Ellipsoid"},{"c":18,"v":5.9,"s":"große Halbachse oblates Ellipsoid"},{"c":28,"v":7.6,"s":"große Halbachse oblates Ellipsoid"},{"c":40,"v":8.0,"s":"große Halbachse oblates Ellipsoid"},{"c":50,"v":10.55,"s":"große Halbachse oblates Ellipsoid"},{"c":60,"v":12.05,"s":"große Halbachse oblates Ellipsoid"},{"c":70,"v":14.0,"s":"große Halbachse oblates Ellipsoid"},{"c":80,"v":16.9,"s":"große Halbachse oblates Ellipsoid"},{"c":90,"v":17.2,"s":"große Halbachse oblates Ellipsoid"}
]
},
"hconcat": [
{
 "vconcat": [
  {
   "width": 540, "height": 72,
   "data": {"name": "res"},
   "layer": [
    {
     "mark": {"type": "line", "strokeWidth": 1.1, "clip": true},
     "encoding": {
      "x": {"field": "t", "type": "quantitative", "scale": {"type": "log", "domain": [0.002, 720], "nice": false},
        "axis": {"orient": "bottom", "labels": false, "title": null,
          "values": [0.002,0.003,0.004,0.005,0.006,0.007,0.008,0.009,0.01,0.02,0.03,0.04,0.05,0.06,0.07,0.08,0.09,0.1,0.2,0.3,0.4,0.5,0.6,0.7,0.8,0.9,1,2,3,4,5,6,7,8,9,10,20,30,40,50,60,70,80,90,100,200,300,400,500,600,700],
          "tickSize": {"condition": {"test": "datum.value==0.01||datum.value==0.1||datum.value==1||datum.value==10||datum.value==100", "value": -8}, "value": -4}}},
      "y": {"field": "r", "type": "quantitative", "scale": {"domain": [-10.5, 10.5], "nice": false},
        "axis": {"values": [-7,-3.5,0,3.5,7], "labelExpr": "datum.value==7?'7':datum.value==0?'0':datum.value==-7?'-7':''", "tickSize": -7, "labelPadding": 10, "labelFontSize": 17, "labelFontWeight": "bold", "title": "res.", "titleFontSize": 22, "titlePadding": 27}},
      "color": {"field": "c", "type": "ordinal", "scale": {"domain": [0,9,18,28,40,50,60,70,80,90], "range": ["#000000","#ff0000","#00f000","#1a1aff","#00ffff","#ff00ff","#f0f000","#808000","#000080","#800080"]}, "legend": null}
     }
    },
    {
     "mark": {"type": "line", "opacity": 0},
     "encoding": {
      "x": {"field": "t", "type": "quantitative",
        "axis": {"orient": "top", "labels": false, "title": null,
          "values": [0.002,0.003,0.004,0.005,0.006,0.007,0.008,0.009,0.01,0.02,0.03,0.04,0.05,0.06,0.07,0.08,0.09,0.1,0.2,0.3,0.4,0.5,0.6,0.7,0.8,0.9,1,2,3,4,5,6,7,8,9,10,20,30,40,50,60,70,80,90,100,200,300,400,500,600,700],
          "tickSize": {"condition": {"test": "datum.value==0.01||datum.value==0.1||datum.value==1||datum.value==10||datum.value==100", "value": -8}, "value": -4}}},
      "y": {"field": "r", "type": "quantitative",
        "axis": {"orient": "right", "labels": false, "title": null, "values": [-7,-3.5,3.5,7], "tickSize": -7}}
     }
    }
   ],
   "resolve": {"axis": {"x": "independent", "y": "independent"}}
  },
  {
   "width": 540, "height": 305,
   "layer": [
    {
     "data": {"name": "g"},
     "mark": {"type": "line", "strokeWidth": 1.4, "clip": true},
     "encoding": {
      "x": {"field": "t", "type": "quantitative", "scale": {"type": "log", "domain": [0.002, 720], "nice": false},
        "axis": {"orient": "bottom", "title": "tc [ms]", "titleFontSize": 22, "titlePadding": 10,
          "labelFontSize": 18, "labelFontWeight": "bold", "labelPadding": 14,
          "labelExpr": "datum.value==0.01?'10⁻²':datum.value==0.1?'10⁻¹':datum.value==1?'10⁰':datum.value==10?'10¹':datum.value==100?'10²':''",
          "values": [0.002,0.003,0.004,0.005,0.006,0.007,0.008,0.009,0.01,0.02,0.03,0.04,0.05,0.06,0.07,0.08,0.09,0.1,0.2,0.3,0.4,0.5,0.6,0.7,0.8,0.9,1,2,3,4,5,6,7,8,9,10,20,30,40,50,60,70,80,90,100,200,300,400,500,600,700],
          "tickSize": {"condition": {"test": "datum.value==0.01||datum.value==0.1||datum.value==1||datum.value==10||datum.value==100", "value": -8}, "value": -4}}},
      "y": {"field": "g", "type": "quantitative", "scale": {"domain": [1.0, 2.3], "nice": false, "zero": false},
        "axis": {"values": [1.0,1.1,1.2,1.3,1.4,1.5,1.6,1.7,1.8,1.9,2.0,2.1,2.2],
          "labelExpr": "round(datum.value*10)%2==0 ? format(datum.value,'.1f') : ''",
          "tickSize": {"condition": {"test": "round(datum.value*10)%2==0", "value": -8}, "value": -4},
          "labelPadding": 10, "labelFontSize": 17, "labelFontWeight": "bold", "title": "G (tc)", "titleFontSize": 22, "titlePadding": 25}},
      "color": {"field": "c", "type": "ordinal", "scale": {"domain": [0,9,18,28,40,50,60,70,80,90], "range": ["#000000","#ff0000","#00f000","#1a1aff","#00ffff","#ff00ff","#f0f000","#808000","#000080","#800080"]},
        "legend": {"orient": "none", "legendX": 435, "legendY": 41.5, "title": null, "symbolType": "M-4,0H4", "symbolSize": 132, "symbolStrokeWidth": 1.6, "labelAlign": "right", "labelOffset": 71, "labelFontSize": 17, "labelExpr": "datum.label + ' mM'", "rowPadding": 4.7, "padding": 0, "labelLimit": 300}}
     }
    },
    {
     "data": {"name": "fit"},
     "mark": {"type": "line", "strokeWidth": 1.4, "color": "#800080"},
     "encoding": {
      "x": {"field": "t", "type": "quantitative", "axis": null},
      "y": {"field": "g", "type": "quantitative", "axis": null}
     }
    },
    {
     "data": {"name": "g"},
     "mark": {"type": "line", "opacity": 0},
     "encoding": {
      "x": {"field": "t", "type": "quantitative",
        "axis": {"orient": "top", "labels": false, "title": null,
          "values": [0.002,0.003,0.004,0.005,0.006,0.007,0.008,0.009,0.01,0.02,0.03,0.04,0.05,0.06,0.07,0.08,0.09,0.1,0.2,0.3,0.4,0.5,0.6,0.7,0.8,0.9,1,2,3,4,5,6,7,8,9,10,20,30,40,50,60,70,80,90,100,200,300,400,500,600,700],
          "tickSize": {"condition": {"test": "datum.value==0.01||datum.value==0.1||datum.value==1||datum.value==10||datum.value==100", "value": -8}, "value": -4}}},
      "y": {"field": "g", "type": "quantitative",
        "axis": {"orient": "right", "labels": false, "title": null, "values": [1.1,1.2,1.3,1.4,1.5,1.6,1.7,1.8,1.9,2.0,2.1,2.2], "tickSize": -6}}
     }
    },
    {
     "data": {"values": [{}]},
     "mark": {"type": "text", "text": "20 mM SDS + var. c (C₁₂EO₄)", "fontSize": 17, "align": "right", "baseline": "middle"},
     "encoding": {"x": {"datum": 438, "type": "quantitative", "axis": null}, "y": {"datum": 2.2, "type": "quantitative", "axis": null}}
    },
    {
     "data": {"values": [{}]},
     "mark": {"type": "text", "text": "a", "font": "Liberation Serif", "fontSize": 35, "align": "center", "baseline": "alphabetic"},
     "encoding": {"x": {"datum": 0.00402, "type": "quantitative", "axis": null}, "y": {"datum": 1.434, "type": "quantitative", "axis": null}}
    },
    {
     "data": {"values": [{}]},
     "mark": {"type": "text", "text": "t", "fontSize": 28, "align": "left", "baseline": "alphabetic"},
     "encoding": {"x": {"datum": 0.435, "type": "quantitative", "axis": null}, "y": {"datum": 1.417, "type": "quantitative", "axis": null}}
    },
    {
     "data": {"values": [{}]},
     "mark": {"type": "text", "text": "d", "fontSize": 21, "align": "left", "baseline": "alphabetic"},
     "encoding": {"x": {"datum": 0.555, "type": "quantitative", "axis": null}, "y": {"datum": 1.412, "type": "quantitative", "axis": null}}
    },
    {
     "data": {"values": [{}]},
     "mark": {"type": "rule", "strokeWidth": 1.5, "color": "#000000"},
     "encoding": {"x": {"datum": 0.63, "type": "quantitative", "axis": null}, "x2": {"datum": 3.0}, "y": {"datum": 1.54, "type": "quantitative", "axis": null}}
    },
    {
     "data": {"values": [{}]},
     "mark": {"type": "point", "shape": "M-1,-0.65L1,0L-1,0.65L-0.5,0Z", "size": 361, "filled": true, "color": "#000000", "opacity": 1},
     "encoding": {"x": {"datum": 2.64, "type": "quantitative", "axis": null}, "y": {"datum": 1.54, "type": "quantitative", "axis": null}}
    }
   ],
   "resolve": {"axis": {"x": "independent", "y": "independent"}}
  }
 ],
 "spacing": 0,
 "bounds": "flush",
 "resolve": {"scale": {"color": "independent"}}
},
{
 "vconcat": [
  {
   "width": 497, "height": 13.7,
   "data": {"values": [{}]},
   "mark": {"type": "point", "opacity": 0, "size": 1},
   "encoding": {},
   "view": {"stroke": null}
  },
  {
   "width": 497, "height": 368,
   "layer": [
    {
     "data": {"name": "dim"},
     "mark": {"type": "point", "shape": "square", "size": 81, "filled": true, "opacity": 1},
     "encoding": {
      "x": {"field": "c", "type": "quantitative", "scale": {"domain": [-1, 92.8], "nice": false, "zero": false},
        "axis": {"values": [0,5,10,15,20,25,30,35,40,45,50,55,60,65,70,75,80,85,90],
          "labelExpr": "datum.value % 10 == 0 ? datum.label : ''",
          "tickSize": {"condition": {"test": "datum.value % 10 == 0", "value": -7}, "value": -4},
          "labelPadding": 15, "labelFontSize": 15, "title": "C₁₂EO₄-Konzentration [mM]", "titleFontSize": 20, "titlePadding": 10}},
      "y": {"field": "v", "type": "quantitative", "scale": {"domain": [0, 52], "nice": false},
        "axis": {"values": [0,5,10,15,20,25,30,35,40,45,50],
          "labelExpr": "datum.value % 10 == 0 ? datum.label : ''",
          "tickSize": {"condition": {"test": "datum.value % 10 == 0", "value": -7}, "value": -4},
          "labelPadding": 11, "labelFontSize": 15, "title": "axiale Dimensionen [nm]", "titleFontSize": 20, "titlePadding": 1}},
      "color": {"field": "s", "type": "nominal",
        "scale": {"domain": ["Kugelradius", "große Halbachse prolates Ellipsoid", "große Halbachse oblates Ellipsoid"], "range": ["#000000", "#ff0000", "#0000ff"]},
        "legend": {"orient": "none", "legendX": 27, "legendY": 44.5, "title": null, "symbolType": "square", "symbolSize": 81, "labelFontSize": 15, "labelOffset": 19, "rowPadding": 6, "padding": 0, "labelLimit": 400}}
     }
    },
    {
     "data": {"name": "dim"},
     "mark": {"type": "point", "opacity": 0},
     "encoding": {
      "x": {"field": "c", "type": "quantitative",
        "axis": {"orient": "top", "labels": false, "title": null, "values": [0,5,10,15,20,25,30,35,40,45,50,55,60,65,70,75,80,85,90], "tickSize": -5}},
      "y": {"field": "v", "type": "quantitative",
        "axis": {"orient": "right", "labels": false, "title": null, "values": [5,10,15,20,25,30,35,40,45,50], "tickSize": -5}}
     }
    },
    {
     "data": {"values": [{}]},
     "mark": {"type": "text", "text": "b", "font": "Liberation Serif", "fontSize": 33, "align": "center", "baseline": "alphabetic"},
     "encoding": {"x": {"datum": 5.3, "type": "quantitative", "axis": null}, "y": {"datum": 15.6, "type": "quantitative", "axis": null}}
    }
   ],
   "resolve": {"axis": {"x": "independent", "y": "independent"}}
  }
 ],
 "spacing": 0,
 "bounds": "flush"
}
]
}
